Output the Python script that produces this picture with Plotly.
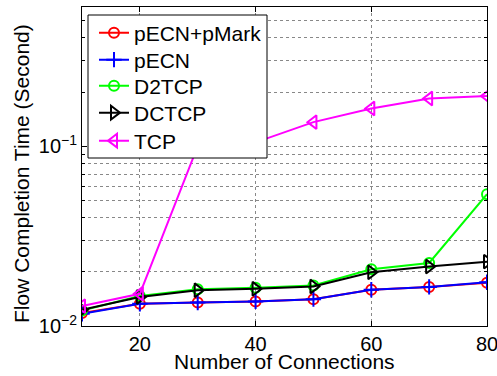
import plotly.graph_objects as go
import math

connections = [10, 20, 30, 40, 50, 60, 70, 80]
pecn_pmark = [0.0118, 0.0133, 0.0135, 0.0137, 0.0141, 0.0159, 0.0165, 0.0174]
pecn = [0.0117, 0.0133, 0.0135, 0.0137, 0.0141, 0.0159, 0.0165, 0.0175]
d2tcp = [0.0122, 0.0147, 0.0160, 0.0163, 0.0168, 0.0207, 0.0224, 0.0541]
dctcp = [0.0123, 0.0145, 0.0158, 0.0161, 0.0166, 0.0199, 0.0214, 0.0228]
tcp = [0.0129, 0.0151, 0.100, 0.105, 0.136, 0.162, 0.184, 0.190]

x_ticks = [20, 40, 60, 80]
x_ticktext = ["20", "40", "60", "80"]
y_ticks = [0.01, 0.1]
y_ticktext = ["10<sup>−2</sup>", "10<sup>−1</sup>"]
y_minor = [0.02, 0.03, 0.04, 0.05, 0.06, 0.07, 0.08, 0.09, 0.2, 0.3, 0.4, 0.5]
x_title = "Number of Connections"
y_title = "Flow Completion Time (Second)"

series = [
    ("pECN+pMark", pecn_pmark, "#ff0000", "circle-open", 10),
    ("pECN", pecn, "#0000ff", "cross-thin-open", 11),
    ("D2TCP", d2tcp, "#00ff00", "circle-open", 10),
    ("DCTCP", dctcp, "#000000", "triangle-right-open", 12),
    ("TCP", tcp, "#ff00ff", "triangle-left-open", 12),
]
legend_rows = [33, 60, 86, 113, 141]

FAM = "Liberation Sans, Arial, sans-serif"

W, H = 497, 376
L, R, T, B = 82, 10, 7, 50
PW, PH = W - L - R, H - T - B


def px(xw):
    return (xw - L) / PW


def py(yw):
    return (H - B - yw) / PH


fig = go.Figure()
legend_layout = {}
for i, (name, vals, color, sym, size) in enumerate(series):
    lg = "legend" if i == 0 else f"legend{i + 1}"
    fig.add_trace(go.Scatter(
        x=connections, y=vals, name=name, mode="lines+markers",
        line=dict(color=color, width=2),
        marker=dict(symbol=sym, size=size, color=color,
                    line=dict(color=color, width=2)),
        legend=lg,
    ))
    legend_layout[lg] = dict(
        x=px(94), y=py(legend_rows[i]), xanchor="left", yanchor="middle",
        bgcolor="rgba(0,0,0,0)", borderwidth=0,
        font=dict(family=FAM, size=21, color="black"),
        itemwidth=30,
    )

fig.update_layout(
    width=W, height=H,
    margin=dict(l=L, r=R, t=T, b=B, autoexpand=False),
    paper_bgcolor="white", plot_bgcolor="white",
    font=dict(family=FAM, size=20, color="black"),
    showlegend=True,
    shapes=[
        dict(type="rect", xref="paper", yref="paper",
             x0=px(88), x1=px(267), y0=py(158), y1=py(15),
             fillcolor="white", line=dict(color="black", width=1),
             layer="above"),
    ],
    annotations=[
        dict(text=x_title, xref="paper", yref="paper", x=px(284),
             y=py(361), xanchor="center", yanchor="middle",
             showarrow=False, font=dict(family=FAM, size=21, color="black")),
        dict(text=y_title, xref="paper", yref="paper", x=px(21),
             y=py(174), xanchor="center", yanchor="middle",
             textangle=-90, showarrow=False,
             font=dict(family=FAM, size=21, color="black")),
    ],
    **legend_layout,
)

fig.update_xaxes(
    range=[10, 80], tickvals=x_ticks, ticktext=x_ticktext,
    showline=True, linecolor="black", linewidth=1, mirror="allticks",
    ticks="inside", ticklen=5, tickcolor="black",
    showgrid=True, gridcolor="#888888", griddash="dot", gridwidth=1,
    zeroline=False, automargin=False, ticklabeloverflow="allow",
    tickfont=dict(family=FAM, size=20, color="black"),
)
fig.update_yaxes(
    type="log", range=[-2, math.log10(0.594)],
    tickvals=y_ticks, ticktext=y_ticktext,
    showline=True, linecolor="black", linewidth=1, mirror="allticks",
    ticks="inside", ticklen=5, tickcolor="black",
    showgrid=True, gridcolor="#888888", griddash="dot", gridwidth=1,
    minor=dict(tickvals=y_minor, ticks="inside", ticklen=3, tickcolor="black",
               showgrid=True, gridcolor="#888888", griddash="dot", gridwidth=1),
    zeroline=False, automargin=False, ticklabeloverflow="allow",
    tickfont=dict(family=FAM, size=20, color="black"),
)

fig.write_html(
    "out.html",
    config={"displayModeBar": False},
    post_script="document.body.style.margin='0';document.body.style.overflow='hidden';",
)
